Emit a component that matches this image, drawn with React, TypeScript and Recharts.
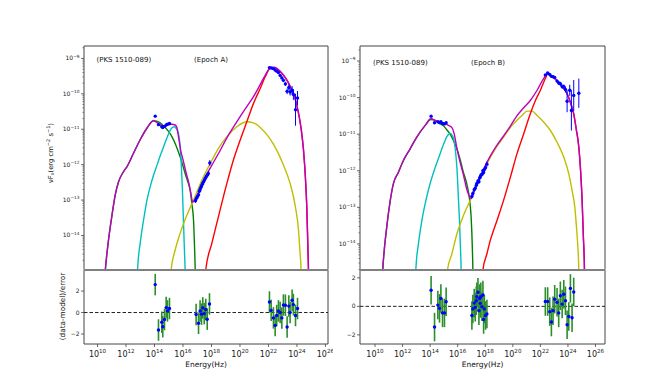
import React from 'react';
import { ComposedChart, Line, Scatter, XAxis, YAxis, ErrorBar, ReferenceLine, ReferenceArea } from 'recharts';

const FONT = "'DejaVu Sans', sans-serif";

// ---------- tick labels ----------
const xTickExps = [10, 12, 14, 16, 18, 20, 22, 24, 26];
const yTickExps = [-9, -10, -11, -12, -13, -14];
const residTicks = [-2, 0, 2];
const minorMultipliers = [2, 3, 4, 5, 6, 7, 8, 9];

// ---------- Epoch A (left) : log10(nu), log10(nuFnu) ----------
const magentaA = [
  [10.45, -15.5], [10.55, -14.96], [10.77, -14.13], [11.0, -13.47], [11.24, -12.86], [11.47, -12.49],
  [11.82, -12.2], [12.06, -12.06], [12.5, -11.7], [13.0, -11.29], [13.5, -10.95], [13.93, -10.76],
  [14.3, -10.85], [14.63, -10.92], [14.9, -10.88], [15.22, -10.86], [15.45, -10.88], [15.57, -10.95],
  [15.68, -11.2], [15.85, -11.62], [16.04, -11.92], [16.2, -12.2], [16.4, -12.5], [16.55, -12.8],
  [16.68, -13.06], [16.8, -13.0], [16.95, -12.9], [17.2, -12.67], [17.6, -12.32], [17.91, -12.1],
  [18.3, -11.82], [18.61, -11.6], [19.1, -11.23], [19.54, -10.94], [20.0, -10.65], [20.48, -10.36],
  [20.95, -10.08], [21.42, -9.74], [21.77, -9.48], [22.12, -9.27], [22.4, -9.25], [22.82, -9.36],
  [23.2, -9.55], [23.52, -9.78], [23.85, -10.1], [24.11, -10.54], [24.3, -11.0], [24.46, -11.58],
  [24.6, -12.4], [24.69, -13.18], [24.76, -14.2], [24.81, -14.96], [24.85, -15.5],
];
const greenA = [
  [10.45, -15.5], [10.55, -14.96], [10.77, -14.13], [11.0, -13.47], [11.24, -12.86], [11.47, -12.49],
  [11.82, -12.2], [12.06, -12.06], [12.5, -11.7], [13.0, -11.29], [13.5, -10.95], [13.93, -10.76],
  [14.2, -10.78], [14.63, -10.9], [15.0, -11.07], [15.22, -11.21], [15.5, -11.45], [15.68, -11.64],
  [15.9, -11.9], [16.15, -12.25], [16.35, -12.5], [16.5, -12.72], [16.62, -13.1], [16.74, -13.57],
  [16.8, -14.2], [16.86, -14.96], [16.9, -15.5],
];
const cyanA = [
  [12.75, -15.5], [12.81, -14.96], [13.0, -14.2], [13.23, -13.57], [13.47, -13.0], [13.7, -12.62],
  [13.93, -12.3], [14.17, -12.02], [14.4, -11.75], [14.63, -11.5], [14.87, -11.25], [15.1, -11.03],
  [15.25, -10.95], [15.4, -10.93], [15.55, -11.0], [15.68, -11.12], [15.8, -11.5], [15.88, -12.0],
  [15.96, -12.72], [16.03, -13.57], [16.1, -14.4], [16.15, -14.96], [16.2, -15.5],
];
const yellowA = [
  [15.1, -15.5], [15.17, -14.96], [15.45, -14.41], [15.8, -13.94], [16.27, -13.43], [16.74, -13.0],
  [17.32, -12.44], [17.91, -11.97], [18.49, -11.54], [19.08, -11.21], [19.78, -10.93], [20.48, -10.79],
  [20.95, -10.82], [21.42, -10.95], [22.0, -11.21], [22.58, -11.59], [23.05, -12.01], [23.52, -12.53],
  [23.87, -13.14], [24.11, -13.85], [24.22, -14.51], [24.29, -14.96], [24.32, -15.5],
];
const redA = [
  [17.5, -15.5], [17.6, -14.96], [18.02, -14.23], [18.37, -13.66], [19.08, -12.53], [19.54, -11.87],
  [20.01, -11.31], [20.48, -10.79], [20.95, -10.27], [21.42, -9.85], [21.77, -9.52], [22.12, -9.28],
  [22.4, -9.26], [22.82, -9.37], [23.2, -9.56], [23.52, -9.79], [23.85, -10.11], [24.11, -10.55],
  [24.3, -11.01], [24.46, -11.59], [24.6, -12.41], [24.69, -13.19], [24.76, -14.21], [24.81, -14.96],
  [24.85, -15.5],
];
// observed points: [log nu, log nuFnu, y error (dex), x error (dex)]
const obsA = [
  [14.05, -10.63, 0.02, 0], [14.28, -10.87, 0.02, 0], [14.51, -10.93, 0.02, 0], [14.58, -10.95, 0.02, 0],
  [14.7, -10.92, 0.02, 0], [14.82, -10.88, 0.02, 0], [14.91, -10.86, 0.02, 0], [15.05, -10.84, 0.02, 0],
  [16.88, -13.02, 0.06, 0.03], [16.95, -12.95, 0.05, 0.03], [17.02, -12.9, 0.05, 0.03], [17.09, -12.85, 0.05, 0.03],
  [17.15, -12.75, 0.05, 0.03], [17.2, -12.7, 0.05, 0.03], [17.26, -12.64, 0.05, 0.03], [17.3, -12.6, 0.05, 0.03],
  [17.36, -12.55, 0.05, 0.03], [17.42, -12.5, 0.05, 0.03], [17.49, -12.45, 0.05, 0.03], [17.55, -12.4, 0.05, 0.03],
  [17.62, -12.35, 0.06, 0.03], [17.7, -12.3, 0.06, 0.03], [17.78, -12.25, 0.07, 0.03], [17.88, -11.95, 0.08, 0.03],
  [22.07, -9.26, 0.02, 0.06], [22.19, -9.27, 0.02, 0.06], [22.35, -9.29, 0.02, 0.06], [22.47, -9.33, 0.03, 0.06],
  [22.58, -9.36, 0.03, 0.06], [22.7, -9.4, 0.03, 0.06], [22.82, -9.48, 0.04, 0.06], [22.94, -9.55, 0.04, 0.06],
  [23.05, -9.62, 0.05, 0.06], [23.19, -9.72, 0.06, 0.06], [23.31, -9.93, 0.08, 0.06], [23.43, -9.82, 0.08, 0.06],
  [23.52, -9.95, 0.1, 0.06], [23.66, -9.9, 0.12, 0.06], [23.75, -10.02, 0.15, 0.06], [23.9, -10.45, 0.45, 0.06],
  [24.04, -10.12, 0.2, 0.06],
];
// residuals: [log nu, (data-model)/error]
const residA = [
  [14.05, 2.6], [14.28, -1.63], [14.51, -0.9], [14.58, -1.32], [14.7, -0.65], [14.82, 0.46], [14.91, 0.15], [15.05, 0.37],
  [16.92, -0.18], [17.09, -1.0], [17.2, 0.15], [17.3, -0.15], [17.39, 0.43], [17.49, -0.1], [17.6, 0.28], [17.7, -0.62], [17.86, 0.8],
  [22.07, 0.98], [22.19, 0.2], [22.35, -0.5], [22.47, -1.2], [22.58, -0.28], [22.7, 0.15], [22.82, 0.0], [22.94, -0.5],
  [23.05, 0.7], [23.19, 0.68], [23.31, -1.35], [23.43, 0.6], [23.52, 0.0], [23.66, 1.15], [23.75, 0.74], [23.9, -0.28], [24.04, 0.37],
];

// ---------- Epoch B (right) ----------
const magentaB = [
  [10.45, -15.5], [10.56, -14.71], [10.85, -13.54], [11.09, -12.85], [11.33, -12.36], [11.7, -12.04],
  [12.06, -11.72], [12.55, -11.4], [13.03, -11.08], [13.64, -10.76], [14.05, -10.58], [14.4, -10.63],
  [14.73, -10.7], [15.0, -10.7], [15.33, -10.76], [15.58, -10.82], [15.75, -11.0], [15.94, -11.38],
  [16.18, -11.78], [16.42, -12.12], [16.62, -12.45], [16.8, -12.66], [16.96, -12.76], [17.2, -12.55],
  [17.39, -12.38], [17.8, -12.02], [18.36, -11.6], [18.85, -11.3], [19.33, -11.05], [19.82, -10.78],
  [20.3, -10.5], [20.79, -10.28], [21.27, -10.08], [21.76, -9.8], [22.2, -9.5], [22.53, -9.35],
  [22.8, -9.4], [23.21, -9.53], [23.6, -9.7], [23.94, -9.89], [24.2, -10.15], [24.42, -10.44],
  [24.6, -10.85], [24.79, -11.35], [24.92, -12.0], [25.03, -12.81], [25.12, -13.8], [25.2, -14.71], [25.23, -15.5],
];
const greenB = [
  [10.45, -15.5], [10.56, -14.71], [10.85, -13.54], [11.09, -12.85], [11.33, -12.36], [11.7, -12.04],
  [12.06, -11.72], [12.55, -11.4], [13.03, -11.08], [13.64, -10.76], [14.05, -10.6], [14.4, -10.63],
  [14.73, -10.72], [14.97, -10.77], [15.21, -10.88], [15.45, -11.0], [15.7, -11.18], [15.94, -11.4],
  [16.18, -11.7], [16.42, -12.05], [16.62, -12.3], [16.8, -12.62], [16.91, -12.95], [16.98, -13.3],
  [17.03, -13.73], [17.07, -14.2], [17.1, -14.71], [17.12, -15.5],
];
const cyanB = [
  [12.9, -15.5], [12.96, -14.71], [13.15, -14.0], [13.4, -13.36], [13.7, -12.8], [14.0, -12.35],
  [14.36, -11.92], [14.73, -11.53], [15.0, -11.25], [15.21, -11.07], [15.45, -10.98], [15.6, -11.03],
  [15.7, -11.12], [15.82, -11.4], [15.94, -11.9], [16.06, -12.81], [16.13, -13.36], [16.2, -14.1],
  [16.25, -14.71], [16.28, -15.5],
];
const yellowB = [
  [15.2, -15.5], [15.26, -14.71], [15.58, -14.27], [15.94, -13.73], [16.42, -13.22], [16.91, -12.81],
  [17.52, -12.27], [18.12, -11.81], [18.73, -11.4], [19.33, -11.08], [19.82, -10.82], [20.3, -10.62],
  [20.67, -10.49], [21.03, -10.37], [21.39, -10.37], [21.76, -10.49], [22.24, -10.67], [22.73, -10.9],
  [23.21, -11.22], [23.7, -11.63], [24.06, -12.08], [24.3, -12.54], [24.5, -13.0], [24.62, -13.54],
  [24.72, -14.09], [24.79, -14.71], [24.82, -15.5],
];
const redB = [
  [17.75, -15.5], [17.83, -14.71], [18.12, -14.27], [18.36, -13.91], [18.85, -13.36], [19.33, -12.81],
  [19.82, -12.18], [20.3, -11.54], [20.79, -10.99], [21.27, -10.44], [21.64, -10.08], [22.0, -9.8],
  [22.36, -9.48], [22.53, -9.36], [22.8, -9.41], [23.21, -9.54], [23.6, -9.71], [23.94, -9.9],
  [24.2, -10.16], [24.42, -10.45], [24.6, -10.86], [24.79, -11.36], [24.92, -12.01], [25.03, -12.82],
  [25.12, -13.81], [25.2, -14.71], [25.23, -15.5],
];
const obsB = [
  [14.07, -10.51, 0.02, 0], [14.32, -10.69, 0.02, 0], [14.56, -10.66, 0.02, 0], [14.68, -10.68, 0.02, 0],
  [14.78, -10.66, 0.02, 0], [14.9, -10.71, 0.02, 0], [15.04, -10.72, 0.02, 0], [15.16, -10.69, 0.02, 0],
  [17.03, -12.7, 0.06, 0.02], [17.1, -12.62, 0.06, 0.02], [17.2, -12.52, 0.05, 0.02], [17.27, -12.48, 0.05, 0.02],
  [17.35, -12.4, 0.05, 0.02], [17.39, -12.35, 0.05, 0.02], [17.47, -12.28, 0.05, 0.02], [17.54, -12.3, 0.05, 0.02],
  [17.59, -12.2, 0.05, 0.02], [17.64, -12.17, 0.05, 0.02], [17.68, -12.12, 0.05, 0.02], [17.76, -12.1, 0.05, 0.02],
  [17.83, -12.0, 0.05, 0.02], [17.88, -12.05, 0.06, 0.02], [17.93, -11.97, 0.06, 0.02], [18.02, -11.92, 0.06, 0.02],
  [18.12, -11.82, 0.07, 0.02],
  [22.36, -9.38, 0.02, 0.06], [22.53, -9.33, 0.02, 0.06], [22.68, -9.37, 0.02, 0.06], [22.8, -9.42, 0.03, 0.06],
  [22.92, -9.43, 0.03, 0.06], [23.04, -9.45, 0.03, 0.06], [23.21, -9.55, 0.04, 0.06], [23.33, -9.6, 0.05, 0.06],
  [23.45, -9.62, 0.05, 0.06], [23.58, -9.7, 0.06, 0.06], [23.7, -9.7, 0.06, 0.06], [23.82, -9.78, 0.08, 0.06],
  [23.94, -10.1, 0.3, 0.06], [24.13, -9.8, 0.15, 0.06], [24.25, -10.35, 0.55, 0.06], [24.42, -9.94, 0.42, 0.06],
  [24.79, -9.88, 0.4, 0.06],
];
const residB = [
  [14.07, 1.13], [14.32, -1.45], [14.56, 0.09], [14.68, -0.14], [14.78, 0.55], [14.9, -0.46], [15.04, -0.46], [15.16, 0.32],
  [17.03, -0.64], [17.1, -0.18], [17.2, 0.23], [17.27, -0.07], [17.35, 0.39], [17.39, 0.67], [17.47, 0.99], [17.54, -0.3],
  [17.59, 0.55], [17.64, 0.21], [17.68, 0.67], [17.76, -0.02], [17.83, 0.8], [17.88, -0.92], [17.93, -0.18], [18.02, -0.64], [18.12, -0.53],
  [22.36, 0.34], [22.53, 0.34], [22.68, -0.37], [22.8, -1.1], [22.92, -0.3], [23.04, 0.5], [23.21, 0.28], [23.33, -0.46],
  [23.45, 0.74], [23.58, 0.16], [23.7, 0.85], [23.82, 0.39], [23.94, -1.29], [24.06, -0.71], [24.18, 1.26], [24.3, -0.8], [24.42, 1.01],
];

// ---------- helpers ----------
const toXY = (arr: number[][]) => arr.map(([x, y]) => ({ x, y }));
const toObs = (arr: number[][]) => arr.map(([x, y, ey, ex]) => ({ x, y, ey, ex }));
const toRes = (arr: number[][]) => arr.map(([x, y]) => ({ x, y, ey: 1 }));

const buildYTicks = (lo: number, hi: number) => {
  const t: number[] = [];
  for (let n = Math.floor(lo); n <= Math.ceil(hi); n++) {
    if (n >= lo && n <= hi) t.push(n);
    minorMultipliers.forEach((k) => {
      const v = n + Math.log10(k);
      if (v >= lo && v <= hi) t.push(v);
    });
  }
  return t;
};

const AXC = '#444';

const YLogTick = (props: any) => {
  const { x, y, payload } = props;
  const v = payload.value;
  const major = Math.abs(v - Math.round(v)) < 1e-6;
  if (!major) return <line x1={x} x2={x - 1.6} y1={y} y2={y} stroke={AXC} strokeWidth={0.6} />;
  return (
    <g>
      <line x1={x} x2={x - 3} y1={y} y2={y} stroke={AXC} strokeWidth={0.8} />
      <text x={x - 4.5} y={y + 2} textAnchor="end" fontFamily={FONT} fontSize={6} fill="#222">
        10<tspan dy={-2.6} fontSize={4.3}>{'\u2212' + Math.abs(Math.round(v))}</tspan>
      </text>
    </g>
  );
};

const XLogTick = (props: any) => {
  const { x, y, payload } = props;
  return (
    <g>
      <line x1={x} x2={x} y1={y} y2={y + 3} stroke={AXC} strokeWidth={0.8} />
      <text x={x} y={y + 12.5} textAnchor="middle" fontFamily={FONT} fontSize={8} fill="#222">
        10<tspan dy={-3.5} fontSize={5.6}>{payload.value}</tspan>
      </text>
    </g>
  );
};

const RTick = (props: any) => {
  const { x, y, payload } = props;
  const v = payload.value;
  return (
    <g>
      <line x1={x} x2={x - 3} y1={y} y2={y} stroke={AXC} strokeWidth={0.8} />
      <text x={x - 4.5} y={y + 2} textAnchor="end" fontFamily={FONT} fontSize={6} fill="#222">
        {v < 0 ? '\u2212' + Math.abs(v) : String(v)}
      </text>
    </g>
  );
};

const Dot = (props: any) => {
  const { cx, cy } = props;
  if (cx == null || cy == null) return <g />;
  return <circle cx={cx} cy={cy} r={1.7} fill="#0000ff" />;
};

type PanelProps = {
  plotLeft: number; plotRight: number; upperTop: number; divider: number; lowerBottom: number;
  xDomain: [number, number]; yDomain: [number, number]; rDomain: [number, number];
  magenta: number[][]; green: number[][]; cyan: number[][]; yellow: number[][]; red: number[][];
  obs: number[][]; resid: number[][];
};

const YW = 40;
const M = 5;

function SedPanel(p: PanelProps) {
  const w = p.plotRight - p.plotLeft;
  const hU = p.divider - p.upperTop;
  const hL = p.lowerBottom - p.divider;
  const yTicks = buildYTicks(p.yDomain[0], p.yDomain[1]);
  const lw = 1.4;
  return (
    <>
      <div style={{ position: 'absolute', left: p.plotLeft - YW, top: p.upperTop - M }}>
        <ComposedChart width={w + YW + M} height={hU + 2 * M} margin={{ top: M, right: M, bottom: M, left: 0 }}>
          <XAxis type="number" dataKey="x" domain={p.xDomain} allowDataOverflow hide />
          <YAxis type="number" dataKey="y" domain={p.yDomain} allowDataOverflow width={YW} ticks={yTicks}
            interval={0} tick={(tp: any) => <YLogTick {...tp} />} tickLine={false} axisLine={false} tickSize={0} tickMargin={0} />
          <Line data={toXY(p.green)} dataKey="y" stroke="#008000" strokeWidth={lw} dot={false} type="monotone" isAnimationActive={false} />
          <Line data={toXY(p.cyan)} dataKey="y" stroke="#00bfbf" strokeWidth={lw} dot={false} type="monotone" isAnimationActive={false} />
          <Line data={toXY(p.yellow)} dataKey="y" stroke="#bfbf00" strokeWidth={lw} dot={false} type="monotone" isAnimationActive={false} />
          <Line data={toXY(p.red)} dataKey="y" stroke="#ff0000" strokeWidth={lw} dot={false} type="monotone" isAnimationActive={false} />
          <Line data={toXY(p.magenta)} dataKey="y" stroke="#bf00bf" strokeWidth={lw} dot={false} type="monotone" isAnimationActive={false} />
          <Scatter data={toObs(p.obs)} shape={(sp: any) => <Dot {...sp} />} fill="#0000ff" isAnimationActive={false}>
            <ErrorBar dataKey="ey" direction="y" width={0} stroke="#0000ff" strokeWidth={1} />
            <ErrorBar dataKey="ex" direction="x" width={0} stroke="#0000ff" strokeWidth={1} />
          </Scatter>
          <ReferenceArea x1={p.xDomain[0]} x2={p.xDomain[1]} y1={p.yDomain[0]} y2={p.yDomain[1]}
            fill="none" fillOpacity={0} stroke={AXC} strokeWidth={1} ifOverflow="visible" />
        </ComposedChart>
      </div>
      <div style={{ position: 'absolute', left: p.plotLeft - YW, top: p.divider - M }}>
        <ComposedChart width={w + YW + M} height={hL + M + 30 + M} margin={{ top: M, right: M, bottom: M, left: 0 }}>
          <XAxis type="number" dataKey="x" domain={p.xDomain} allowDataOverflow height={30} ticks={xTickExps}
            interval={0} tick={(tp: any) => <XLogTick {...tp} />} tickLine={false} axisLine={false} tickSize={0} tickMargin={0} />
          <YAxis type="number" dataKey="y" domain={p.rDomain} allowDataOverflow width={YW} ticks={residTicks}
            interval={0} tick={(tp: any) => <RTick {...tp} />} tickLine={false} axisLine={false} tickSize={0} tickMargin={0} />
          <ReferenceLine y={0} stroke="#222" strokeWidth={1} strokeDasharray="3.5 2" ifOverflow="visible" />
          <Scatter data={toRes(p.resid)} shape={(sp: any) => <Dot {...sp} />} fill="#0000ff" isAnimationActive={false}>
            <ErrorBar dataKey="ey" direction="y" width={0} stroke="#2a8f2a" strokeWidth={1.6} />
          </Scatter>
          <ReferenceArea x1={p.xDomain[0]} x2={p.xDomain[1]} y1={p.rDomain[0]} y2={p.rDomain[1]}
            fill="none" fillOpacity={0} stroke={AXC} strokeWidth={1} ifOverflow="visible" />
          <ReferenceLine y={p.rDomain[1]} stroke="#808080" strokeWidth={2} ifOverflow="visible" />
        </ComposedChart>
      </div>
    </>
  );
}

export default function App() {
  const txt = { fontFamily: FONT, fill: '#111' } as const;
  return (
    <div style={{ position: 'absolute', left: 0, top: 0, width: 672, height: 387, background: '#fff', overflow: 'hidden' }}>
      <SedPanel plotLeft={84} plotRight={328} upperTop={46} divider={269.5} lowerBottom={343.5}
        xDomain={[9.05, 26.18]} yDomain={[-14.96, -8.65]} rDomain={[-2.93, 3.96]}
        magenta={magentaA} green={greenA} cyan={cyanA} yellow={yellowA} red={redA} obs={obsA} resid={residA} />
      <SedPanel plotLeft={360} plotRight={605} upperTop={46} divider={269.5} lowerBottom={343.5}
        xDomain={[8.91, 26.69]} yDomain={[-14.7, -8.59]} rDomain={[-2.64, 2.55]}
        magenta={magentaB} green={greenB} cyan={cyanB} yellow={yellowB} red={redB} obs={obsB} resid={residB} />
      <svg width={672} height={387} style={{ position: 'absolute', left: 0, top: 0, pointerEvents: 'none' }}>
        <text x={96.5} y={62} fontSize={7} {...txt}>(PKS 1510-089)</text>
        <text x={194} y={62} fontSize={7} {...txt}>(Epoch A)</text>
        <text x={373} y={64.5} fontSize={7} {...txt}>(PKS 1510-089)</text>
        <text x={471} y={64.5} fontSize={7} {...txt}>(Epoch B)</text>
        <text x={206} y={367} fontSize={7.5} textAnchor="middle" {...txt}>Energy(Hz)</text>
        <text x={482.5} y={367} fontSize={7.5} textAnchor="middle" {...txt}>Energy(Hz)</text>
        <text transform="translate(64.5,306.5) rotate(-90)" fontSize={7.3} textAnchor="middle" {...txt}>(data-model)/error</text>
        <text transform="translate(52.5,153) rotate(-90)" fontSize={6.8} textAnchor="middle" {...txt}>
          νF<tspan dy={1.8} fontSize={5}>ν</tspan>
          <tspan dy={-1.8}>(erg cm</tspan>
          <tspan dy={-2.6} fontSize={5}>−2</tspan>
          <tspan dy={2.6}> s</tspan>
          <tspan dy={-2.6} fontSize={5}>−1</tspan>
          <tspan dy={2.6}>)</tspan>
        </text>
      </svg>
    </div>
  );
}
